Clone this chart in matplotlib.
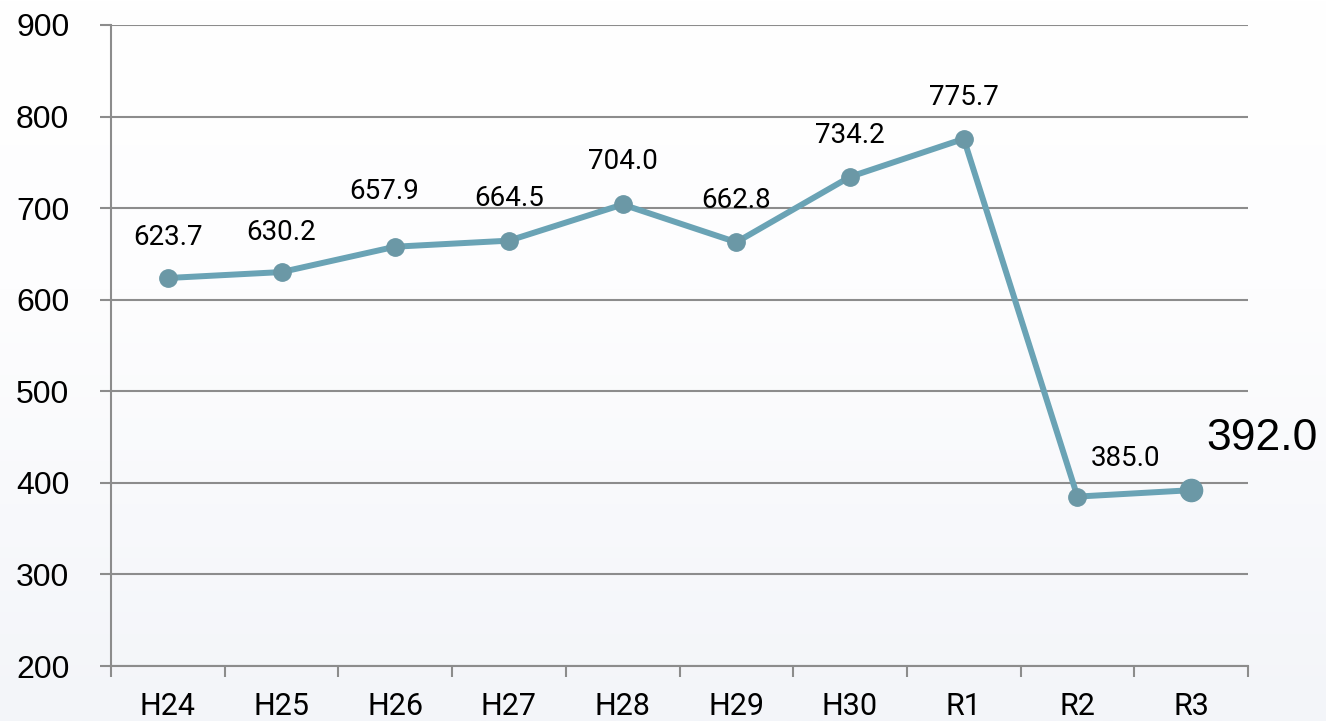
import numpy as np
import matplotlib
matplotlib.use("Agg")
import matplotlib.pyplot as plt
from matplotlib.colors import LinearSegmentedColormap

years = ["H24", "H25", "H26", "H27", "H28", "H29", "H30", "R1", "R2", "R3"]
values = [623.7, 630.2, 657.9, 664.5, 704.0, 662.8, 734.2, 775.7, 385.0, 392.0]
labels = ["623.7", "630.2", "657.9", "664.5", "704.0", "662.8", "734.2", "775.7", "385.0", "392.0"]

# label offsets in pixels (dx, dy) from each point
offs = [(0, 41), (0, 40), (-11, 55), (0, 42), (0, 43), (0, 42), (0, 41), (0, 41), (48, 38), (71, 52)]

line_c = "#6aa3b5"
mark_c = "#6b98a6"
grid_c = "#8c8c8c"

fig = plt.figure(figsize=(13.26, 7.21), dpi=100)

# soft background gradient
bg = fig.add_axes([0, 0, 1, 1], zorder=-5)
grad = np.linspace(0, 1, 256).reshape(-1, 1)
cmap = LinearSegmentedColormap.from_list("bg", [(0, "#f3f5f9"), (0.6, "#fdfdfe"), (1, "#ffffff")])
bg.imshow(grad, aspect="auto", cmap=cmap, origin="lower", extent=[0, 1, 0, 1])
bg.axis("off")

ax = fig.add_axes([111 / 1326, 1 - 666 / 721, (1248 - 111) / 1326, 641 / 721])
ax.patch.set_alpha(0)

x = np.arange(len(years))
ax.plot(x, values, color=line_c, lw=4.3, zorder=3, solid_capstyle="round")
ax.plot(x[:-1], values[:-1], "o", color=mark_c, ms=12.5, zorder=4)
ax.plot(x[-1:], values[-1:], "o", color=mark_c, ms=16, zorder=4)

for i, (v, t, (dx, dy)) in enumerate(zip(values, labels, offs)):
    if i == len(values) - 1:
        ax.annotate(t, (i, v), xytext=(dx, dy), textcoords="offset pixels",
                    ha="center", va="center", fontsize=32, family="Liberation Sans",
                    annotation_clip=False)
    else:
        ax.annotate(t, (i, v), xytext=(dx, dy), textcoords="offset pixels",
                    ha="center", va="center", fontsize=20, family="Roboto")

ax.set_xlim(-0.5, len(years) - 0.5)
ax.set_ylim(200, 900)
ax.set_yticks(np.arange(200, 901, 100))
ax.yaxis.grid(True, color=grid_c, lw=1.5)
ax.set_axisbelow(True)

ax.set_xticks(x)
ax.set_xticklabels(years, family="Roboto", fontsize=22)
ax.set_xticks(np.arange(-0.5, len(years), 1), minor=True)
ax.tick_params(axis="x", which="major", length=0, pad=19)
ax.tick_params(axis="x", which="minor", length=8, width=1.5, color=grid_c)
ax.tick_params(axis="y", length=8, width=1.5, color=grid_c, pad=22, labelsize=23)
for lab in ax.get_yticklabels():
    lab.set_family("Liberation Sans")

for s in ["top", "right"]:
    ax.spines[s].set_visible(False)
for s in ["left", "bottom"]:
    ax.spines[s].set_color(grid_c)
    ax.spines[s].set_linewidth(1.5)

fig.savefig("out.png", dpi=100)
